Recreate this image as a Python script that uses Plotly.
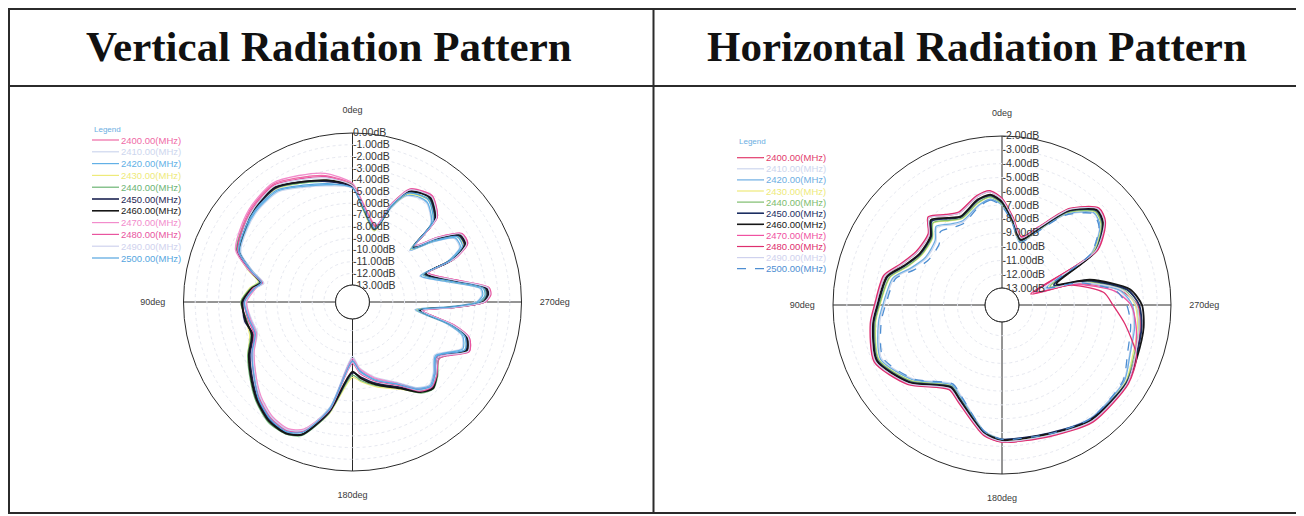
import plotly.graph_objects as go

# ---------------- data ----------------
FREQS = ["2400.00(MHz)", "2410.00(MHz)", "2420.00(MHz)", "2430.00(MHz)", "2440.00(MHz)",
         "2450.00(MHz)", "2460.00(MHz)", "2470.00(MHz)", "2480.00(MHz)", "2490.00(MHz)",
         "2500.00(MHz)"]

V_COLORS = ["#ef6aa6", "#cdd6ee", "#62b0e6", "#eeea7a", "#6cb474", "#1c2452",
            "#161616", "#f28ccc", "#e9559f", "#cfd2ee", "#56a6e0"]
H_COLORS = ["#e23c6c", "#cdd6ee", "#6eaee2", "#eeea7a", "#7ebd6e", "#1c2e62",
            "#161616", "#f052a2", "#de2f6e", "#cfd2ee", "#4e8ed2"]

ANG_TICKS = [0, 90, 180, 270]
ANG_TEXT = ["0deg", "90deg", "180deg", "270deg"]

V_RTICKS = [0, -1, -2, -3, -4, -5, -6, -7, -8, -9, -10, -11, -12, -13]
V_RTEXT = ["0.00dB", "-1.00dB", "-2.00dB", "-3.00dB", "-4.00dB", "-5.00dB", "-6.00dB",
           "-7.00dB", "-8.00dB", "-9.00dB", "-10.00dB", "-11.00dB", "-12.00dB", "-13.00dB"]
H_RTICKS = [-2, -3, -4, -5, -6, -7, -8, -9, -10, -11, -12, -13]
H_RTEXT = ["-2.00dB", "-3.00dB", "-4.00dB", "-5.00dB", "-6.00dB", "-7.00dB", "-8.00dB",
           "-9.00dB", "-10.00dB", "-11.00dB", "-12.00dB", "-13.00dB"]

# Vertical pattern (dB) read at these angles
V_ANGLES = [0, 12, 23, 34, 46, 55, 66, 73, 78, 82, 90, 100, 108, 117, 128, 136, 145, 153, 159, 168,
            180, 186, 196, 209, 217, 223, 229, 237, 247, 253, 257, 263, 267, 270, 273, 276, 282,
            291, 293, 297, 302, 307, 312, 315, 323, 327, 333, 338, 343, 354]

V_2400 = [-4.4, -3.4, -2.9, -2.3, -2.6, -3.0, -3.6, -5.3, -6.6, -6.0, -5.3, -5.5, -5.7, -4.9, -3.9, -3.1, -2.4, -2.2, -2.7, -5.0,
          -9.4, -8.5, -7.5, -6.4, -5.0, -4.5, -5.0, -5.7, -3.7, -4.1, -5.5, -8.5, -5.8, -3.3, -2.9, -3.0, -5.5,
          -7.6, -5.0, -3.5, -3.5, -5.3, -7.3, -4.3, -3.2, -3.3, -3.8, -5.4, -7.7, -6.0]
V_2410 = [-4.7, -4.3, -3.8, -3.1, -3.2, -3.5, -4.0, -5.6, -6.7, -6.1, -5.4, -5.7, -5.9, -5.0, -4.0, -3.1, -2.4, -2.2, -2.7, -5.3,
          -9.8, -8.8, -7.8, -6.6, -5.3, -4.8, -5.3, -6.1, -4.3, -4.7, -6.2, -9.1, -6.4, -3.9, -3.4, -3.5, -6.2,
          -8.3, -5.7, -4.2, -4.2, -6.0, -7.9, -5.0, -3.9, -3.9, -4.3, -5.9, -8.1, -6.4]
V_2420 = [-4.6, -4.2, -3.7, -3.0, -3.1, -3.4, -3.9, -5.5, -6.6, -6.0, -5.3, -5.6, -5.8, -4.9, -3.9, -3.0, -2.3, -2.1, -2.6, -5.2,
          -9.6, -8.6, -7.6, -6.5, -5.2, -4.7, -5.2, -6.0, -4.2, -4.6, -6.1, -9.0, -6.3, -3.8, -3.3, -3.4, -6.1,
          -8.2, -5.6, -4.1, -4.1, -5.9, -7.8, -4.9, -3.8, -3.8, -4.2, -5.8, -8.0, -6.3]
V_2430 = [-4.4, -3.8, -3.4, -2.8, -2.9, -3.2, -3.6, -5.1, -6.2, -5.6, -4.9, -5.2, -5.2, -4.4, -3.5, -2.7, -2.0, -1.9, -2.3, -4.6,
          -8.0, -7.6, -6.9, -5.9, -4.8, -4.4, -4.9, -5.6, -4.0, -4.4, -5.9, -8.9, -6.1, -3.6, -3.1, -3.2, -5.9,
          -8.0, -5.4, -3.8, -3.9, -5.7, -7.7, -4.7, -3.6, -3.7, -4.1, -5.7, -8.1, -6.4]
V_2440 = [-4.4, -3.9, -3.4, -2.7, -2.8, -3.1, -3.6, -5.2, -6.3, -5.7, -4.9, -5.3, -5.3, -4.4, -3.4, -2.6, -1.9, -1.8, -2.2, -4.7,
          -8.2, -7.7, -7.0, -6.0, -4.7, -4.3, -4.8, -5.6, -3.9, -4.3, -5.8, -8.8, -6.0, -3.5, -3.0, -3.1, -5.8,
          -7.9, -5.3, -3.7, -3.8, -5.6, -7.6, -4.6, -3.5, -3.6, -4.0, -5.6, -8.0, -6.3]
V_2450 = [-4.6, -3.9, -3.3, -2.7, -2.9, -3.2, -3.7, -5.3, -6.4, -5.9, -5.1, -5.1, -5.5, -4.6, -3.6, -2.8, -2.1, -1.9, -2.3, -4.8,
          -8.4, -8.0, -7.2, -6.1, -4.9, -4.4, -5.0, -5.8, -3.9, -4.3, -5.7, -8.7, -5.9, -3.3, -2.9, -3.0, -5.7,
          -7.8, -5.2, -3.7, -3.7, -5.5, -7.5, -4.5, -3.4, -3.4, -3.9, -5.5, -7.9, -6.2]
V_2460 = [-4.5, -3.8, -3.3, -2.6, -2.85, -3.3, -3.8, -5.4, -6.5, -5.8, -5.0, -5.2, -5.4, -4.5, -3.5, -2.7, -2.0, -1.85, -2.3, -4.9,
          -8.5, -7.9, -7.1, -6.0, -4.8, -4.35, -4.9, -5.7, -3.8, -4.2, -5.6, -8.6, -5.8, -3.2, -2.8, -2.9, -5.6,
          -7.7, -5.1, -3.6, -3.6, -5.4, -7.4, -4.4, -3.3, -3.4, -3.8, -5.4, -7.8, -6.1]
V_2470 = [-4.3, -3.2, -2.7, -2.2, -2.5, -2.9, -3.5, -5.2, -6.5, -6.1, -5.4, -5.6, -5.8, -5.0, -4.0, -3.2, -2.5, -2.3, -2.8, -5.1,
          -9.6, -8.7, -7.7, -6.5, -5.1, -4.6, -5.1, -5.8, -3.6, -4.0, -5.4, -8.4, -5.7, -3.1, -2.7, -2.8, -5.4,
          -7.5, -4.9, -3.4, -3.4, -5.2, -7.2, -4.2, -3.1, -3.2, -3.7, -5.3, -7.6, -5.9]
V_2480 = [-4.5, -3.5, -3.0, -2.4, -2.7, -3.1, -3.7, -5.4, -6.6, -5.9, -5.2, -5.4, -5.6, -4.8, -3.8, -3.0, -2.3, -2.1, -2.6, -5.0,
          -9.2, -8.3, -7.4, -6.3, -4.9, -4.5, -4.9, -5.6, -3.6, -4.0, -5.5, -8.4, -5.6, -3.1, -2.6, -2.7, -5.4,
          -7.5, -4.9, -3.4, -3.4, -5.2, -7.2, -4.2, -3.1, -3.2, -3.6, -5.3, -7.7, -6.0]
V_2490 = [-4.5, -3.6, -3.1, -2.5, -2.8, -3.2, -3.8, -5.5, -6.7, -6.0, -5.3, -5.5, -5.7, -4.9, -3.9, -3.1, -2.4, -2.2, -2.7, -5.1,
          -9.3, -8.4, -7.5, -6.4, -5.0, -4.6, -5.0, -5.7, -3.7, -4.1, -5.6, -8.5, -5.7, -3.2, -2.7, -2.8, -5.5,
          -7.6, -5.0, -3.5, -3.5, -5.3, -7.3, -4.3, -3.2, -3.3, -3.7, -5.4, -7.8, -6.1]
V_2500 = [-4.7, -4.1, -3.6, -2.9, -3.0, -3.3, -3.8, -5.4, -6.5, -6.0, -5.2, -5.5, -5.7, -4.8, -3.8, -2.9, -2.2, -2.0, -2.5, -5.1,
          -9.4, -8.5, -7.5, -6.4, -5.1, -4.6, -5.1, -5.9, -4.0, -4.4, -5.9, -8.8, -6.1, -3.6, -3.1, -3.2, -5.9,
          -8.0, -5.4, -3.9, -3.9, -5.7, -7.6, -4.7, -3.6, -3.6, -4.0, -5.6, -7.9, -6.2]

# Horizontal pattern (dB) read at these angles
H_ANGLES = [0, 6, 13, 25, 32, 40, 46, 58, 68, 76, 90, 98, 114, 130, 148, 156, 172, 180, 200, 218,
            238, 249, 261, 270, 277, 286, 291, 300, 309, 315, 325, 335, 344, 353]

H_2400 = [-6.6, -6.0, -6.2, -6.9, -6.6, -6.0, -6.9, -7.0, -6.4, -5.5, -5.1, -4.7, -4.2, -5.4, -7.1, -6.6, -4.8, -4.35, -4.2, -3.6,
          -3.5, -3.8, -4.1, -4.4, -5.6, -8.6, -11.6, -6.4, -4.7, -4.4, -5.8, -8.1, -9.2, -7.9]
H_2410 = [-7.0, -6.55, -6.85, -7.6, -7.4, -6.9, -7.6, -7.8, -7.2, -6.2, -5.7, -5.3, -4.7, -5.9, -7.5, -7.0, -5.05, -4.55, -4.35, -3.85,
          -3.85, -4.35, -4.6, -4.9, -5.7, -8.4, -10.9, -6.8, -5.15, -4.85, -6.25, -8.45, -9.55, -8.25]
H_2420 = [-7.0, -6.5, -6.8, -7.5, -7.3, -6.8, -7.5, -7.7, -7.1, -6.1, -5.6, -5.2, -4.6, -5.8, -7.4, -6.9, -5.0, -4.5, -4.3, -3.8,
          -3.8, -4.3, -4.5, -4.8, -5.6, -8.3, -10.8, -6.7, -5.1, -4.8, -6.2, -8.4, -9.5, -8.2]
H_2430 = [-6.9, -6.4, -6.65, -7.35, -7.05, -6.5, -7.25, -7.4, -6.85, -5.9, -5.4, -5.0, -4.5, -5.7, -7.3, -6.8, -4.95, -4.45, -4.2, -3.7,
          -3.7, -4.1, -4.3, -4.6, -5.4, -8.1, -10.6, -6.6, -5.0, -4.7, -6.1, -8.35, -9.45, -8.15]
H_2440 = [-6.9, -6.35, -6.6, -7.3, -7.0, -6.45, -7.2, -7.35, -6.8, -5.85, -5.35, -4.95, -4.45, -5.65, -7.3, -6.8, -4.95, -4.5, -4.25, -3.7,
          -3.65, -4.0, -4.2, -4.5, -5.3, -8.0, -10.5, -6.5, -4.95, -4.65, -6.05, -8.3, -9.4, -8.1]
H_2450 = [-6.8, -6.25, -6.45, -7.2, -6.85, -6.3, -7.1, -7.25, -6.65, -5.7, -5.25, -4.85, -4.35, -5.55, -7.25, -6.75, -4.9, -4.5, -4.35, -3.75,
          -3.6, -3.85, -4.0, -4.3, -5.1, -7.8, -10.2, -6.4, -4.85, -4.55, -5.95, -8.25, -9.35, -8.05]
H_2460 = [-6.75, -6.2, -6.4, -7.15, -6.8, -6.2, -7.05, -7.2, -6.6, -5.65, -5.2, -4.8, -4.3, -5.5, -7.2, -6.7, -4.85, -4.45, -4.3, -3.7,
          -3.55, -3.75, -3.85, -4.1, -4.9, -7.6, -10.0, -6.3, -4.8, -4.5, -5.9, -8.2, -9.3, -8.0]
H_2470 = [-6.55, -5.95, -6.15, -6.85, -6.55, -5.95, -6.85, -6.95, -6.35, -5.45, -5.05, -4.65, -4.15, -5.35, -7.05, -6.55, -4.75, -4.3, -4.15, -3.55,
          -3.5, -3.9, -4.4, -4.9, -6.0, -8.8, -11.8, -6.3, -4.65, -4.35, -5.75, -8.05, -9.15, -7.85]
H_2480 = [-6.5, -5.9, -6.1, -6.8, -6.5, -5.9, -6.8, -6.9, -6.3, -5.4, -5.0, -4.6, -4.1, -5.3, -7.0, -6.5, -4.7, -4.3, -4.1, -3.5,
          -3.45, -3.8, -5.2, -6.2, -6.8, -9.0, -12.0, -6.2, -4.6, -4.3, -5.7, -8.0, -9.1, -7.8]
H_2490 = [-6.6, -6.0, -6.2, -6.9, -6.6, -6.0, -6.9, -7.0, -6.4, -5.5, -5.1, -4.7, -4.2, -5.4, -7.1, -6.6, -4.8, -4.35, -4.2, -3.6,
          -3.55, -3.9, -4.2, -4.5, -5.4, -8.3, -11.0, -6.4, -4.7, -4.4, -5.8, -8.1, -9.2, -7.9]
H_2500 = [-7.1, -6.6, -6.9, -7.7, -7.6, -7.3, -7.9, -8.0, -7.4, -6.3, -5.8, -5.4, -4.8, -5.9, -7.5, -7.0, -5.0, -4.5, -4.3, -3.8,
          -3.9, -4.5, -4.8, -5.2, -5.9, -8.4, -10.7, -6.8, -5.2, -4.9, -6.3, -8.5, -9.5, -8.2]

V_SERIES = [V_2400, V_2410, V_2420, V_2430, V_2440, V_2450, V_2460, V_2470, V_2480, V_2490, V_2500]
H_SERIES = [H_2400, H_2410, H_2420, H_2430, H_2440, H_2450, H_2460, H_2470, H_2480, H_2490, H_2500]

TITLES = ["Vertical Radiation Pattern", "Horizontal Radiation Pattern"]

# ---------------- layout helpers ----------------
# the page has an 8 px body margin, so the figure is drawn 8 px smaller and
# all pixel positions below (window coordinates) are shifted by that margin
OFF = 8
W, H = 1304 - OFF, 516 - OFF


def fx(x):
    return (x - OFF) / W


def fy(y):
    return 1 - (y - OFF) / H


WIDTHS = [1.3, 1.1, 1.3, 1.1, 1.3, 1.8, 1.8, 1.3, 1.3, 1.1, 1.3]
H_DASH = ["solid"] * 10 + ["dash"]

fig = go.Figure()

for name, vals, col, w in zip(FREQS, V_SERIES, V_COLORS, WIDTHS):
    fig.add_trace(go.Scatterpolar(
        r=vals + [vals[0]], theta=V_ANGLES + [360], mode="lines", name=name,
        line=dict(color=col, width=w, shape="spline", smoothing=0.7),
        subplot="polar", showlegend=False, hoverinfo="skip"))

for name, vals, col, w, d in zip(FREQS, H_SERIES, H_COLORS, WIDTHS, H_DASH):
    fig.add_trace(go.Scatterpolar(
        r=vals + [vals[0]], theta=H_ANGLES + [360], mode="lines", name=name,
        line=dict(color=col, width=w, shape="spline", smoothing=0.7, dash=d),
        subplot="polar2", showlegend=False, hoverinfo="skip"))

# polar geometry (window pixels)
CEN = [(352.5, 302.0), (1002.0, 305.0)]
RAD = 169.0
HOLE = 0.1


def polar_dict(cx, cy, rng, tvals, ttext):
    return dict(
        domain=dict(x=[fx(cx - RAD), fx(cx + RAD)], y=[fy(cy + RAD), fy(cy - RAD)]),
        hole=HOLE,
        bgcolor="white",
        radialaxis=dict(range=rng, angle=90, tickangle=90, tickvals=tvals, ticktext=ttext,
                        showline=False, ticks="", showgrid=True, gridcolor="#e6e8f0",
                        griddash="dot", gridwidth=1,
                        tickfont=dict(family="Arial", size=10.5, color="#333333")),
        angularaxis=dict(rotation=90, direction="counterclockwise", tickvals=ANG_TICKS,
                         ticktext=ANG_TEXT, showgrid=True, gridcolor="#2a2a2a", gridwidth=1,
                         showline=True, linecolor="#2a2a2a", linewidth=1,
                         ticks="outside", ticklen=16, tickcolor="rgba(0,0,0,0)",
                         tickfont=dict(family="Arial", size=9, color="#3a3a3a")),
    )


shapes = []
# table frame
LINE = dict(color="#2b2b2b", width=2)
shapes.append(dict(type="rect", xref="paper", yref="paper", x0=fx(9), x1=fx(1301.5),
                   y0=fy(513), y1=fy(9), line=LINE))
shapes.append(dict(type="line", xref="paper", yref="paper", x0=fx(9), x1=fx(1301.5),
                   y0=fy(86), y1=fy(86), line=LINE))
shapes.append(dict(type="line", xref="paper", yref="paper", x0=fx(653.5), x1=fx(653.5),
                   y0=fy(513), y1=fy(9), line=LINE))
# inner hole circles
for cx, cy in CEN:
    hr = RAD * HOLE
    shapes.append(dict(type="circle", xref="paper", yref="paper",
                       x0=fx(cx - hr), x1=fx(cx + hr), y0=fy(cy + hr), y1=fy(cy - hr),
                       line=dict(color="#2a2a2a", width=1), fillcolor="white"))

annotations = []
# titles
for txt, xc in zip(TITLES, [329, 976.5]):
    annotations.append(dict(text=txt, x=fx(xc), y=fy(47), xref="paper", yref="paper",
                            showarrow=False, xanchor="center", yanchor="middle",
                            font=dict(family="Liberation Serif", size=43, color="#111",
                                      weight="bold")))

# legends (built from the frequency and colour lists)
LEG = [dict(x0=92, y_title=129, y0=140, dy=11.8, colors=V_COLORS, dashes=["solid"] * 11),
       dict(x0=737, y_title=141, y0=157.7, dy=11.1, colors=H_COLORS, dashes=H_DASH)]
for lg in LEG:
    annotations.append(dict(text="Legend", x=fx(lg["x0"]), y=fy(lg["y_title"]), xref="paper",
                            yref="paper", showarrow=False, xanchor="left", yanchor="middle",
                            font=dict(family="Arial", size=8, color="#6aaee2")))
    for i, (name, col, d) in enumerate(zip(FREQS, lg["colors"], lg["dashes"])):
        yy = lg["y0"] + i * lg["dy"]
        shapes.append(dict(type="line", xref="paper", yref="paper", x0=fx(lg["x0"]),
                           x1=fx(lg["x0"] + 27), y0=fy(yy), y1=fy(yy),
                           line=dict(color=col, width=1.2 if i not in (5, 6) else 1.6,
                                     dash="dash" if d == "dash" else "solid")))
        annotations.append(dict(text=name, x=fx(lg["x0"] + 27), y=fy(yy), xref="paper",
                                yref="paper", showarrow=False, xanchor="left",
                                yanchor="middle",
                                font=dict(family="Arial", size=9.5, color=col)))

fig.update_layout(
    width=W, height=H,
    margin=dict(l=0, r=0, t=0, b=0),
    paper_bgcolor="white",
    plot_bgcolor="white",
    showlegend=False,
    polar=polar_dict(CEN[0][0], CEN[0][1], [-13, 0], V_RTICKS, V_RTEXT),
    polar2=polar_dict(CEN[1][0], CEN[1][1], [-13, -2], H_RTICKS, H_RTEXT),
    shapes=shapes,
    annotations=annotations,
)

fig.write_html("out.html")
